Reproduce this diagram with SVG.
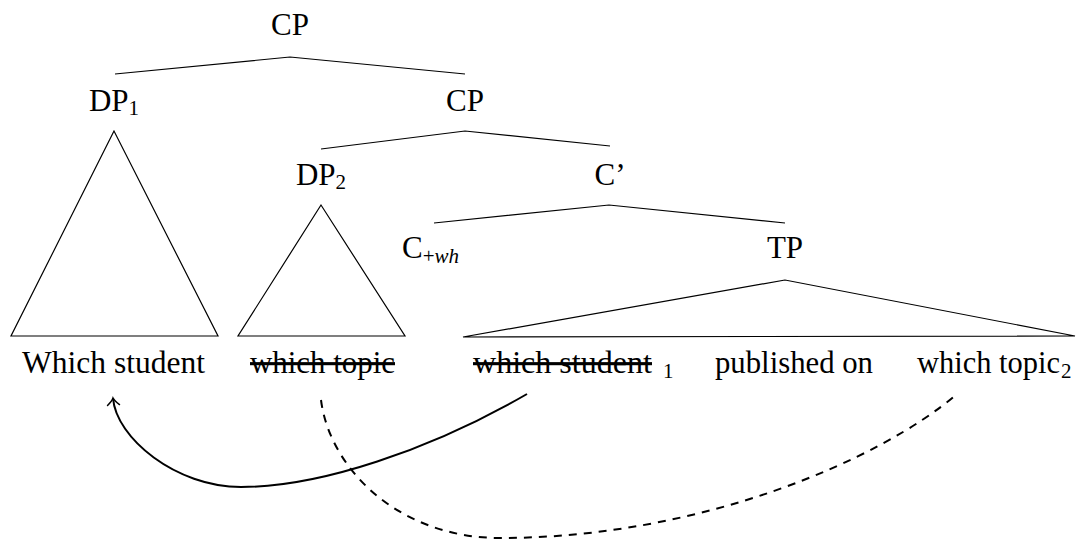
<svg xmlns="http://www.w3.org/2000/svg" width="1077" height="539" viewBox="0 0 1077 539" font-family="'Liberation Serif', 'DejaVu Serif', serif">
<style>
text{font-family:'Liberation Serif','DejaVu Serif',serif;font-size:31px;fill:#000}
.sub{font-size:21px}
.mid{text-anchor:middle}
.edge{stroke:#000;stroke-width:1.2;fill:none}
.tri{stroke:#000;stroke-width:1.2;fill:none;stroke-linejoin:miter}
.move{stroke:#000;stroke-width:2;fill:none}
.dash{stroke-dasharray:8 7}
.strike{text-decoration:line-through}
</style>
<defs>
<marker id="to" viewBox="-9 -8 12 16" markerWidth="12" markerHeight="16" refX="0" refY="0" markerUnits="userSpaceOnUse" orient="auto">
<path d="M-7,-6 C-4,-2.5 -1.5,-0.6 0,0 C-1.5,0.6 -4,2.5 -7,6" fill="none" stroke="#000" stroke-width="1.5" stroke-linecap="round"/>
</marker>
</defs>
<rect width="1077" height="539" fill="#fff"/>
<g id="connectors">
<path class="edge" d="M115,74 L290,57 L465,74"/>
<path class="edge" d="M321,149 L465,131 L610,146"/>
<path class="edge" d="M434,223 L609,205 L785,223"/>
<path class="move" d="M527,394 C430,450 320,487 241,487 C176,487 116,438 113,398" marker-end="url(#to)"/>
<path class="move dash" d="M321,400 C330,470 400,538 500,538 C700,538 880,460 957,394"/>
</g>
<g id="CP-root"><text class="mid" x="290" y="35">CP</text></g>
<g id="DP1"><text class="mid" x="114" y="111">DP<tspan class="sub" dy="4">1</tspan></text>
<path class="tri" d="M114,131 L11,336 L218,336 Z"/></g>
<g id="CP"><text class="mid" x="465" y="111">CP</text></g>
<g id="DP2"><text class="mid" x="321" y="185">DP<tspan class="sub" dy="4">2</tspan></text>
<path class="tri" d="M321,205 L238,336 L405,336 Z"/></g>
<g id="Cbar"><text class="mid" x="610" y="185">C’</text></g>
<g id="Cwh"><text x="402" y="258">C<tspan class="sub" dy="5" font-size="23">+</tspan><tspan class="sub" font-size="23" font-style="italic">wh</tspan></text></g>
<g id="TP"><text class="mid" x="785" y="258">TP</text>
<path class="tri" d="M785,280 L463,337 L1075,336 Z"/></g>
<g id="leaf-which-student"><text x="22" y="373" textLength="183" lengthAdjust="spacingAndGlyphs">Which student</text></g>
<g id="leaf-which-topic-trace"><text class="strike" x="250" y="373" textLength="145" lengthAdjust="spacingAndGlyphs">which topic</text></g>
<g id="leaf-which-student-trace"><text class="strike" x="473" y="373" textLength="179" lengthAdjust="spacingAndGlyphs">which student</text><text class="sub" x="663" y="378">1</text></g>
<g id="leaf-published-on"><text x="715" y="373" textLength="158" lengthAdjust="spacingAndGlyphs">published on</text></g>
<g id="leaf-which-topic"><text x="917" y="373" textLength="143" lengthAdjust="spacingAndGlyphs">which topic</text><text class="sub" x="1061" y="378">2</text></g>
</svg>
